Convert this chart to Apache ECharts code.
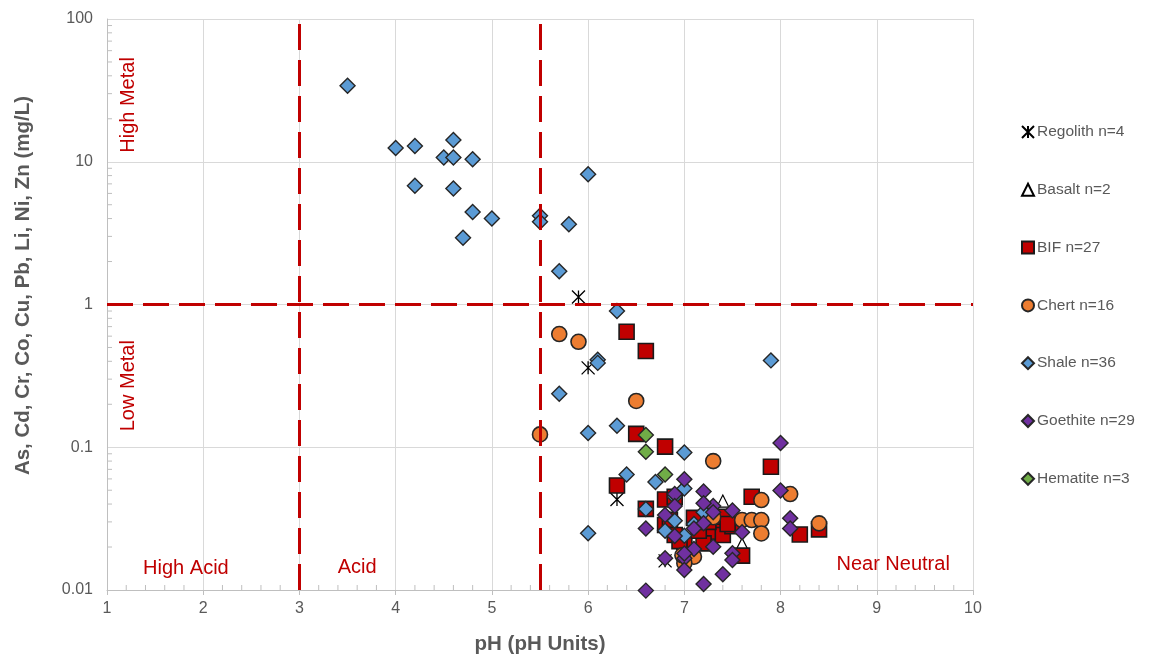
<!DOCTYPE html>
<html>
<head>
<meta charset="utf-8">
<script src="https://cdn.jsdelivr.net/npm/echarts@6/dist/echarts.min.js"></script>
<style>
  html, body { margin: 0; padding: 0; background: #fff; overflow: hidden; }
  #chart { width: 1154px; height: 657px; }
</style>
</head>
<body>
<div id="chart"></div>
<script>
// pH against dissolved metal concentration (mg/L), by rock type
const regolithPH   = [5.9, 6.0, 6.3, 6.8];
const regolithConc = [1.13, 0.36, 0.043, 0.016];

const basaltPH   = [7.4, 7.6];
const basaltConc = [0.042, 0.021];

const bifPH   = [6.4, 6.6, 6.5, 6.8, 7.9, 6.3, 6.6, 6.8, 6.9, 7.7, 6.8, 7.1, 7.3, 7.4,
                 7.4, 7.5, 6.9, 7.0, 7.2, 7.6, 8.2, 8.4, 6.95, 7.15, 7.25, 7.45, 6.85];
const bifConc = [0.645, 0.472, 0.124, 0.101, 0.073, 0.054, 0.037, 0.043, 0.045, 0.045, 0.0285, 0.032, 0.0256, 0.0243,
                 0.0326, 0.028, 0.0243, 0.0218, 0.0212, 0.0174, 0.0245, 0.0266, 0.022, 0.026, 0.030, 0.029, 0.031];

const chertPH   = [5.7, 5.9, 6.5, 5.5, 7.3, 7.8, 8.1, 8.4, 7.3, 7.6, 7.7, 7.8, 7.8, 7.1, 7.0, 6.98];
const chertConc = [0.621, 0.548, 0.211, 0.123, 0.080, 0.0427, 0.047, 0.0293, 0.0323, 0.0309, 0.0309, 0.0309, 0.0249, 0.0171, 0.0154, 0.0175];

const shalePH   = [3.5, 4.0, 4.2, 4.6, 4.5, 4.6, 4.8, 4.2, 4.6, 4.8,
                   5.0, 4.7, 5.5, 5.5, 6.0, 5.8, 5.7, 6.3, 6.1, 6.1,
                   7.9, 5.7, 6.0, 6.3, 7.0, 6.4, 6.7, 7.0, 6.6, 6.9,
                   6.8, 7.0, 6.0, 7.2, 7.1, 6.9];
const shaleConc = [34.1, 12.5, 12.9, 14.2, 10.7, 10.7, 10.4, 6.8, 6.5, 4.45,
                   4.0, 2.94, 4.19, 3.80, 8.17, 3.65, 1.71, 0.90, 0.41, 0.39,
                   0.406, 0.237, 0.126, 0.1415, 0.092, 0.0645, 0.057, 0.0515, 0.037, 0.0306,
                   0.026, 0.024, 0.025, 0.035, 0.029, 0.045];

const goethitePH   = [8.0, 8.0, 8.1, 8.1, 7.0, 6.9, 7.2, 7.3, 7.5, 7.2, 6.9, 6.8, 6.6, 7.2, 7.6,
                      6.9, 7.1, 7.3, 7.5, 7.5, 7.0, 7.0, 6.8, 7.4, 7.2, 6.6, 7.0, 7.1, 7.3];
const goethiteConc = [0.107, 0.0497, 0.0318, 0.027, 0.0596, 0.047, 0.0489, 0.0387, 0.036, 0.0405, 0.0387, 0.0335, 0.027, 0.0293, 0.0254,
                      0.0239, 0.0194, 0.0201, 0.0181, 0.0162, 0.0167, 0.0138, 0.0167, 0.0129, 0.011, 0.0099, 0.018, 0.027, 0.035];

const hematitePH   = [6.6, 6.6, 6.8];
const hematiteConc = [0.122, 0.093, 0.0645];

const seriesNames = ['Regolith n=4', 'Basalt n=2', 'BIF n=27', 'Chert n=16', 'Shale n=36', 'Goethite n=29', 'Hematite n=3'];

// axis ticks
const xTicks = [1, 2, 3, 4, 5, 6, 7, 8, 9, 10];
const yTicks = [0.01, 0.1, 1, 10, 100];
const yTickLabels = ['0.01', '0.1', '1', '10', '100'];

// classification thresholds
const acidLimits = [3, 5.5];
const metalLimit = 1;

// zone labels [pH, conc, text]
const zoneLabels = [[1.82, 0.0142, 'High Acid'], [3.6, 0.0144, 'Acid'], [9.17, 0.0151, 'Near Neutral']];
const metalLabels = [[1.22, 25, 'High Metal'], [1.22, 0.27, 'Low Metal']];

const zip = (a, b) => a.map((v, i) => [v, b[i]]);

const FONT = '"Liberation Sans", Arial, sans-serif';
const GREY = '#595959';
const RED = '#c00000';
const EDGE = '#262626';

// minor ticks: log steps on y, 0.2 steps on x
const minorTicks = [];
for (let d = 0; d < yTicks.length - 1; d++) {
  for (let m = 2; m <= 9; m++) minorTicks.push(['y', yTicks[d] * m]);
}
for (let i = 0; i < xTicks.length - 1; i++) {
  for (let k = 1; k <= 4; k++) minorTicks.push(['x', +(xTicks[i] + k * 0.2).toFixed(1)]);
}

function pointSeries(name, ph, conc, symbol, size, style) {
  return {
    name, type: 'scatter', data: zip(ph, conc), symbol, symbolSize: size,
    itemStyle: Object.assign({ opacity: 1 }, style), clip: false, z: 3,
    emphasis: { disabled: true }
  };
}

const chart = echarts.init(document.getElementById('chart'), null, { renderer: 'canvas', width: 1154, height: 657 });

chart.setOption({
  animation: false,
  backgroundColor: '#fff',
  textStyle: { fontFamily: FONT },
  grid: { left: 107, right: 181, top: 19, bottom: 67, containLabel: false, outerBoundsMode: 'none' },
  legend: {
    data: seriesNames,
    orient: 'vertical',
    left: 1016,
    top: 119,
    itemWidth: 12,
    itemHeight: 12,
    itemGap: 41.8,
    textStyle: { color: GREY, fontSize: 15.5, fontFamily: FONT, padding: [0, 0, 0, -2] },
    selectedMode: false
  },
  xAxis: {
    type: 'value', min: xTicks[0], max: xTicks[xTicks.length - 1], interval: 1,
    name: 'pH (pH Units)', nameLocation: 'middle', nameGap: 44,
    nameTextStyle: { color: GREY, fontSize: 20.5, fontWeight: 'bold', fontFamily: FONT },
    axisLine: { lineStyle: { color: '#bfbfbf', width: 1 } },
    axisTick: { show: true, length: 5, lineStyle: { color: '#bfbfbf' } },
    axisLabel: { color: GREY, fontSize: 16, margin: 11, fontFamily: FONT },
    splitLine: { show: true, lineStyle: { color: '#d9d9d9', width: 1 } }
  },
  yAxis: {
    type: 'log', logBase: 10, min: yTicks[0], max: yTicks[yTicks.length - 1],
    name: 'As, Cd, Cr, Co, Cu, Pb, Li, Ni, Zn (mg/L)', nameLocation: 'middle', nameGap: 73,
    nameRotate: 90,
    nameTextStyle: { color: GREY, fontSize: 20.5, fontWeight: 'bold', fontFamily: FONT, padding: [0, 0, 0, 38] },
    axisLine: { show: true, lineStyle: { color: '#bfbfbf', width: 1 } },
    axisTick: { show: false },
    axisLabel: {
      color: GREY, fontSize: 16, margin: 14, fontFamily: FONT,
      formatter: v => yTickLabels[Math.round(Math.log10(v)) - Math.round(Math.log10(yTicks[0]))]
    },
    splitLine: { show: true, lineStyle: { color: '#d9d9d9', width: 1 } }
  },
  series: [
    pointSeries(seriesNames[0], regolithPH, regolithConc,
      'path://M0,0L10,10M10,0L0,10M5,0L5,10', 13,
      { color: 'rgba(0,0,0,0)', borderColor: '#000', borderWidth: 1.3 }),
    pointSeries(seriesNames[1], basaltPH, basaltConc, 'triangle', 12,
      { color: 'rgba(255,255,255,0)', borderColor: '#000', borderWidth: 1.2 }),
    pointSeries(seriesNames[2], bifPH, bifConc, 'rect', 15,
      { color: RED, borderColor: '#1a1a1a', borderWidth: 1.6 }),
    pointSeries(seriesNames[3], chertPH, chertConc, 'circle', 15,
      { color: '#ed7d31', borderColor: EDGE, borderWidth: 1.6 }),
    pointSeries(seriesNames[4], shalePH, shaleConc, 'diamond', 15,
      { color: '#5b9bd5', borderColor: EDGE, borderWidth: 1.4 }),
    pointSeries(seriesNames[5], goethitePH, goethiteConc, 'diamond', 15,
      { color: '#7030a0', borderColor: EDGE, borderWidth: 1.4 }),
    pointSeries(seriesNames[6], hematitePH, hematiteConc, 'diamond', 15,
      { color: '#70ad47', borderColor: EDGE, borderWidth: 1.4 }),
    {
      // threshold lines and horizontal zone labels
      name: 'zones', type: 'scatter', z: 1, silent: true,
      data: zoneLabels, symbolSize: 0, itemStyle: { opacity: 1 },
      label: {
        show: true, position: 'inside', color: RED, fontSize: 20, fontFamily: FONT,
        formatter: p => p.data[2]
      },
      markLine: {
        silent: true, symbol: ['none', 'none'], label: { show: false },
        lineStyle: { color: RED, width: 3, type: [26, 10], opacity: 1 },
        emphasis: { disabled: true },
        data: [{ xAxis: acidLimits[0] }, { xAxis: acidLimits[1] }, { yAxis: metalLimit }]
      }
    },
    {
      name: 'metal', type: 'scatter', z: 1, silent: true,
      data: metalLabels, symbolSize: 0, itemStyle: { opacity: 1 },
      label: {
        show: true, position: 'inside', rotate: 90, color: RED, fontSize: 20, fontFamily: FONT,
        formatter: p => p.data[2]
      }
    },
    {
      name: 'minorTicks', type: 'custom', z: 2, silent: true, clip: false,
      data: minorTicks.map((t, i) => [i]),
      renderItem: (params, api) => {
        const t = minorTicks[params.dataIndex];
        if (t[0] === 'y') {
          const p = api.coord([xTicks[0], t[1]]);
          return { type: 'line', shape: { x1: p[0], y1: p[1], x2: p[0] + 5, y2: p[1] },
                   style: { stroke: '#bfbfbf', lineWidth: 1 } };
        }
        const p = api.coord([t[1], yTicks[0]]);
        return { type: 'line', shape: { x1: p[0], y1: p[1], x2: p[0], y2: p[1] - 5 },
                 style: { stroke: '#bfbfbf', lineWidth: 1 } };
      }
    }
  ]
});
</script>
</body>
</html>
